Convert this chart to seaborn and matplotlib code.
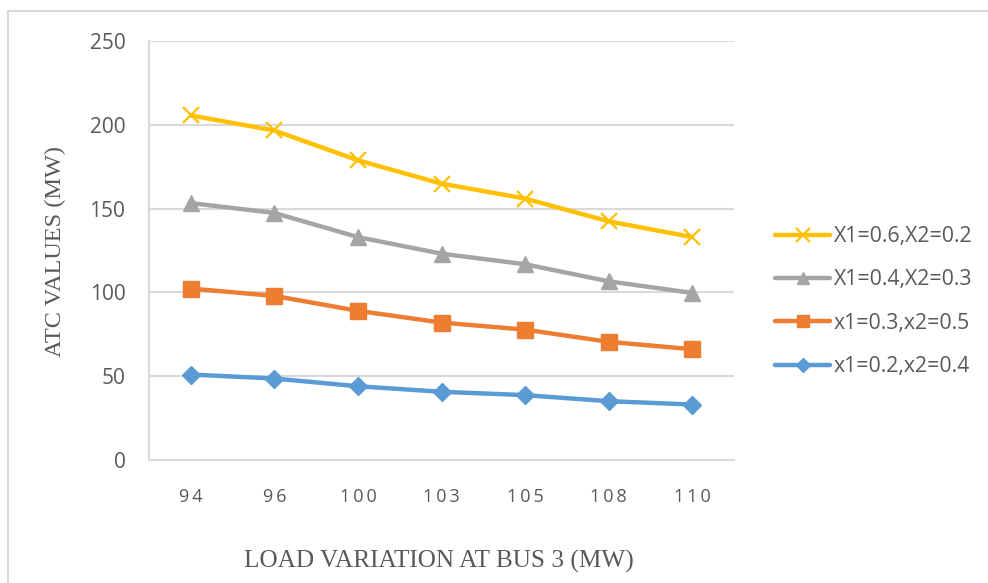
import numpy as np
import pandas as pd
import matplotlib
matplotlib.use("Agg")
import matplotlib.pyplot as plt
import matplotlib.patches as mpatches
import seaborn as sns

# ---- data ----
loads = ["94", "96", "100", "103", "105", "108", "110"]
series_labels = ["X1=0.6,X2=0.2", "X1=0.4,X2=0.3", "x1=0.3,x2=0.5", "x1=0.2,x2=0.4"]
atc_a = [205.6, 196.6, 178.8, 164.9, 156.0, 142.4, 133.0]
atc_b = [153.3, 147.4, 133.0, 123.1, 116.8, 106.6, 99.7]
atc_c = [102.3, 97.9, 89.0, 82.0, 77.8, 70.5, 66.1]
atc_d = [51.0, 48.6, 44.0, 40.7, 38.7, 35.1, 33.1]
yticks = [0, 50, 100, 150, 200, 250]

colors = ["#FFC000", "#A5A5A5", "#ED7D31", "#5B9BD5"]
markers = ["x", "^", "s", "D"]
msizes = [12, 11, 11, 9]
mews = [1.6, 1, 1, 1]

sns.set_theme(style="white")
plt.rcParams["font.family"] = ["Open Sans", "DejaVu Sans"]

fig = plt.figure(figsize=(9.88, 5.83), dpi=100)
ax = fig.add_axes([149/988, 1-460/583, (734-149)/988, (460-41)/583])

xpos = list(range(len(loads)))
for lab, vals, c, m, ms, mew in zip(series_labels, [atc_a, atc_b, atc_c, atc_d], colors, markers, msizes, mews):
    df = pd.DataFrame({"x": xpos, "y": vals})
    sns.lineplot(data=df, x="x", y="y", ax=ax, color=c, linewidth=3.2,
                 marker=m, markersize=ms, markeredgewidth=mew,
                 markeredgecolor=c, markerfacecolor=c, label=lab)

ax.set_xlim(-0.5, len(loads) - 0.5)
ax.set_ylim(0, 250)
ax.set_yticks(yticks)
ax.set_yticklabels([str(v) for v in yticks], fontsize=15, color="#595959")
ax.set_xticks(xpos)
ax.set_xticklabels(["\u2009".join(list(s)) for s in loads], fontsize=13, color="#595959")
ax.tick_params(axis="both", length=0)
ax.tick_params(axis="y", pad=17)
ax.tick_params(axis="x", pad=20)
ax.yaxis.grid(True, color="#D9D9D9", linewidth=1.5)
ax.xaxis.grid(False)
for s in ["left", "bottom"]:
    ax.spines[s].set_color("#D9D9D9")
    ax.spines[s].set_linewidth(1.5)
for s in ["top", "right"]:
    ax.spines[s].set_visible(False)

ax.set_xlabel("")
ax.set_ylabel("")
fig.text(439/988, 1-561/583, "LOAD VARIATION AT BUS 3 (MW)", family="Liberation Serif",
         fontsize=18.2, color="#595959", ha="center", va="center")
fig.text(55/988, 1-251/583, "ATC VALUES (MW)", family="Liberation Serif",
         fontsize=17.5, color="#595959", ha="center", va="center", rotation=90)

leg = ax.legend(loc="upper left", bbox_to_anchor=(756/988, 1-207/583),
                bbox_transform=fig.transFigure, frameon=False, fontsize=15.3,
                handlelength=2.6, labelspacing=1.05, handletextpad=0.15,
                markerscale=0.8)
for t in leg.get_texts():
    t.set_color("#595959")

fig.add_artist(mpatches.Rectangle((8/988, -0.05), 1.1, 1-11/583+0.05, transform=fig.transFigure,
                                  fill=False, edgecolor="#D9D9D9", linewidth=1.5))

fig.savefig("out.png", dpi=100)
